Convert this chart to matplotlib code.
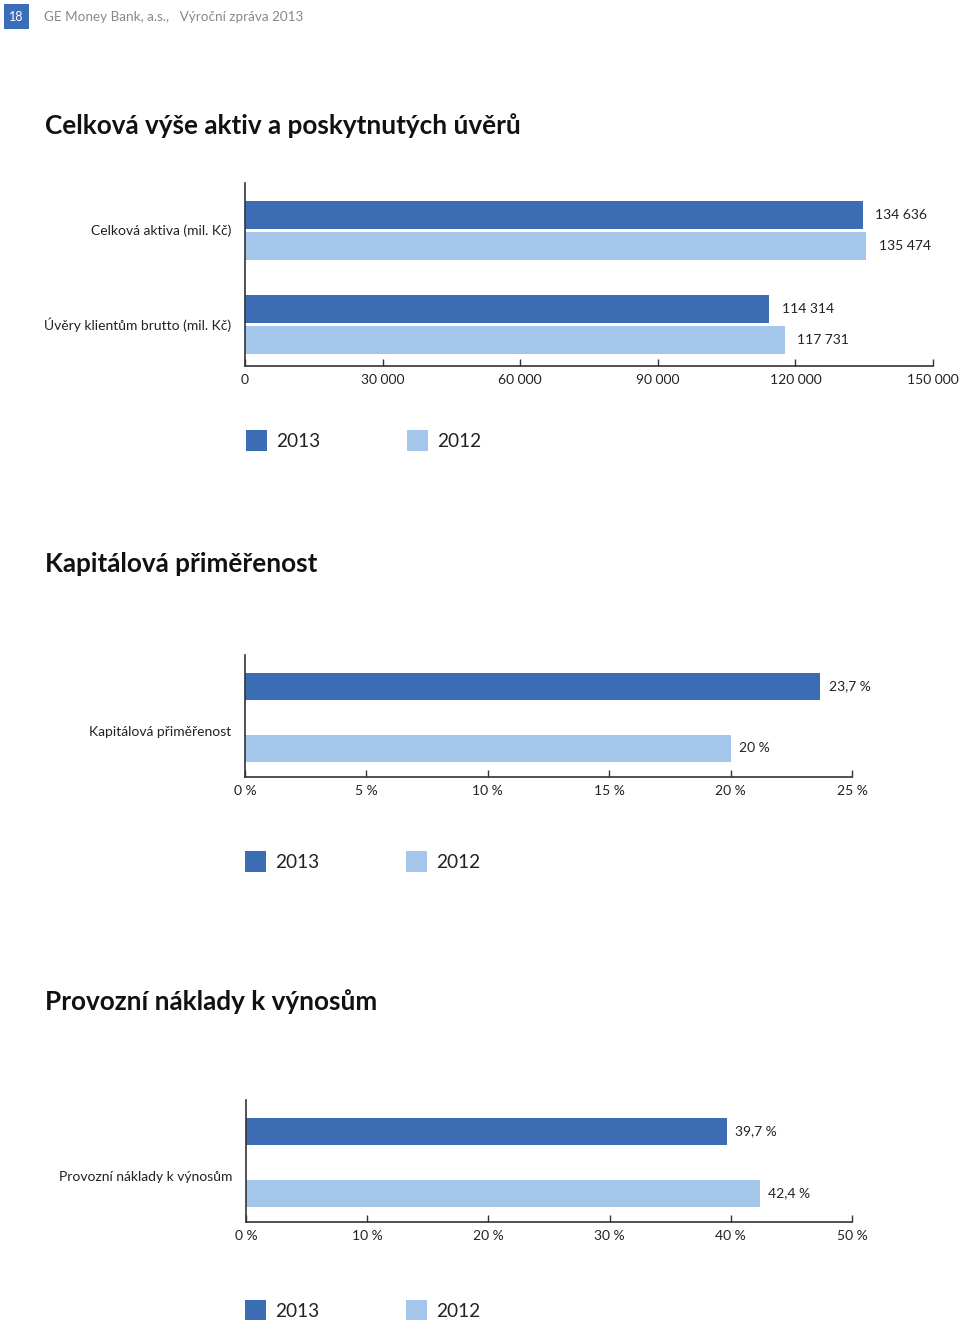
import matplotlib
matplotlib.use("Agg")
import matplotlib.pyplot as plt
from matplotlib.patches import Rectangle
from matplotlib.ticker import FixedLocator, FixedFormatter

# ---------------- data ----------------
years = ["2013", "2012"]
c1_categories = ["Celková aktiva (mil. Kč)", "Úvěry klientům brutto (mil. Kč)"]
c1_2013 = [134636, 114314]
c1_2012 = [135474, 117731]
c1_labels_2013 = ["134 636", "114 314"]
c1_labels_2012 = ["135 474", "117 731"]
c1_ticks = [0, 30000, 60000, 90000, 120000, 150000]
c1_ticklabels = ["0", "30 000", "60 000", "90 000", "120 000", "150 000"]

c2_category = "Kapitálová přiměřenost"
c2_values = [23.7, 20.0]          # 2013, 2012
c2_labels = ["23,7 %", "20 %"]
c2_ticks = [0, 5, 10, 15, 20, 25]
c2_ticklabels = ["0 %", "5 %", "10 %", "15 %", "20 %", "25 %"]

c3_category = "Provozní náklady k výnosům"
c3_values = [39.7, 42.4]          # 2013, 2012
c3_labels = ["39,7 %", "42,4 %"]
c3_ticks = [0, 10, 20, 30, 40, 50]
c3_ticklabels = ["0 %", "10 %", "20 %", "30 %", "40 %", "50 %"]

titles = ["Celková výše aktiv a poskytnutých úvěrů",
          "Kapitálová přiměřenost",
          "Provozní náklady k výnosům"]

# ---------------- style ----------------
DARK = "#3C6DB4"
LIGHT = "#A4C6EA"
AXC = "#333333"
TXT = "#222222"
FONT = ["Lato", "DejaVu Sans"]
plt.rcParams["font.family"] = FONT

W, H = 960, 1320
fig = plt.figure(figsize=(W / 100, H / 100), dpi=100)


def fx(px):
    return px / W


def fy(py):
    return 1 - py / H


def make_axes(left, right, top, bottom):
    ax = fig.add_axes([fx(left), fy(bottom), fx(right - left), (bottom - top) / H])
    for s in ["top", "right"]:
        ax.spines[s].set_visible(False)
    for s in ["left", "bottom"]:
        ax.spines[s].set_color(AXC)
        ax.spines[s].set_linewidth(1.2)
    ax.tick_params(axis="y", left=False, labelleft=False)
    ax.tick_params(axis="x", direction="in", length=5, width=1, color=AXC,
                   labelsize=10, labelcolor=TXT, pad=5.5)
    return ax


# header
fig.patches.append(Rectangle((fx(4), fy(29)), fx(25), 25 / H, transform=fig.transFigure,
                             facecolor="#3A6FB7", edgecolor="none"))
fig.text(fx(16.5), fy(17), "18", color="white", fontsize=9, ha="center", va="center")
fig.text(fx(44), fy(17), "GE Money Bank, a.s.,   Výroční zpráva 2013", color="#888888",
         fontsize=9.7, ha="left", va="center")

# titles
for t, y in zip(titles, [126, 564, 1002]):
    fig.text(fx(45), fy(y), t, fontsize=18.8, fontweight="bold", color="#111111",
             ha="left", va="center")


def legend(y, x1, x2):
    for x, col, lab in [(x1, DARK, years[0]), (x2, LIGHT, years[1])]:
        fig.patches.append(Rectangle((fx(x), fy(y + 10.5)), fx(21), 21 / H,
                                     transform=fig.transFigure, facecolor=col, edgecolor="none"))
        fig.text(fx(x + 30), fy(y + 1.5), lab, fontsize=13.7, color=TXT, ha="left", va="center")


# ---------------- chart 1 ----------------
ax1 = make_axes(245, 933, 183, 366)
pos = [0, 1]
off = 0.165
h = 0.30
b13 = ax1.barh([p - off for p in pos], c1_2013, height=h, color=DARK)
b12 = ax1.barh([p + off for p in pos], c1_2012, height=h, color=LIGHT)
ax1.set_xlim(0, 150000)
ax1.set_ylim(1.44, -0.505)
ax1.xaxis.set_major_locator(FixedLocator(c1_ticks))
ax1.xaxis.set_major_formatter(FixedFormatter(c1_ticklabels))
for rect, lab in zip(b13, c1_labels_2013):
    ax1.annotate(lab, (rect.get_width(), rect.get_y() + rect.get_height() / 2),
                 xytext=(9, 0), textcoords="offset points", fontsize=10, color=TXT,
                 ha="left", va="center")
for rect, lab in zip(b12, c1_labels_2012):
    ax1.annotate(lab, (rect.get_width(), rect.get_y() + rect.get_height() / 2),
                 xytext=(9, 0), textcoords="offset points", fontsize=10, color=TXT,
                 ha="left", va="center")
for p, cat in zip(pos, c1_categories):
    ax1.annotate(cat, (0, p), xytext=(-10, 0), textcoords="offset points",
                 xycoords=("axes fraction", "data"), fontsize=10, color=TXT,
                 ha="right", va="center")
legend(440, 246, 407)


# ---------------- charts 2 and 3 ----------------
def single_chart(left, right, top, bottom, values, labels, ticks, ticklabels, cat, xmax):
    ax = make_axes(left, right, top, bottom)
    bars = ax.barh([0, 1], values, height=0.435, color=[DARK, LIGHT])
    ax.set_xlim(0, xmax)
    ax.set_ylim(1.46, -0.508)
    ax.xaxis.set_major_locator(FixedLocator(ticks))
    ax.xaxis.set_major_formatter(FixedFormatter(ticklabels))
    for rect, lab in zip(bars, labels):
        ax.annotate(lab, (rect.get_width(), rect.get_y() + rect.get_height() / 2),
                    xytext=(6, 0), textcoords="offset points", fontsize=10, color=TXT,
                    ha="left", va="center")
    ax.annotate(cat, (0, 0.74), xytext=(-10, 0), textcoords="offset points",
                xycoords=("axes fraction", "data"), fontsize=10, color=TXT,
                ha="right", va="center")
    return ax


single_chart(245, 852, 655, 777, c2_values, c2_labels, c2_ticks, c2_ticklabels,
             c2_category, 25)
legend(861, 245, 406)
single_chart(246, 852, 1100, 1222, c3_values, c3_labels, c3_ticks, c3_ticklabels,
             c3_category, 50)
legend(1310, 245, 406)

fig.savefig("out.png", dpi=100)
